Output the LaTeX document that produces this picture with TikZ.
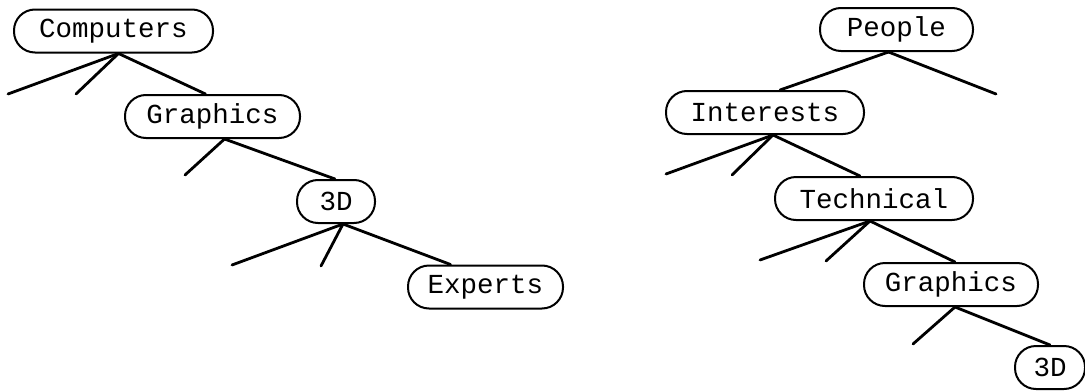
\documentclass[tikz,border=0pt]{standalone}
\usepackage{fontspec}
\newfontfamily\courfont{Liberation Mono}
\begin{document}
\begin{tikzpicture}[x=1pt,y=-1pt,
  box/.style={draw,line width=2pt,rounded corners=21pt,minimum height=43pt,inner xsep=0pt,inner ysep=0pt,
    font=\courfont\fontsize{27.5}{30}\selectfont},
  branch/.style={line width=2.8pt,line cap=round}]
\useasboundingbox (0,0) rectangle (1085,391);
% left tree
\node[box,minimum width=199pt] (comp) at (113.5,31) {Computers};
\node[box,minimum width=175pt] (lgra) at (212.5,116.5) {Graphics};
\node[box,minimum width=78pt] (lthd) at (336,201.5) {3D};
\node[box,minimum width=155pt] (expe) at (485.5,287) {Experts};
\coordinate (c1) at (8,94);
\coordinate (c2) at (76,94);
\coordinate (g1) at (185,175);
\coordinate (d1) at (232,265);
\coordinate (d2) at (321,266);
\draw[branch] ([xshift=5pt]comp.south) -- (c1);
\draw[branch] ([xshift=5pt]comp.south) -- (c2);
\draw[branch] ([xshift=5pt]comp.south) -- ([xshift=-7pt]lgra.north);
\draw[branch] ([xshift=12pt]lgra.south) -- (g1);
\draw[branch] ([xshift=12pt]lgra.south) -- ([xshift=-1pt]lthd.north);
\draw[branch] ([xshift=7pt]lthd.south) -- (d1);
\draw[branch] ([xshift=7pt]lthd.south) -- (d2);
\draw[branch] ([xshift=7pt]lthd.south) -- ([xshift=-35pt]expe.north);
% right tree
\node[box,minimum width=153pt] (peop) at (896.5,29.5) {People};
\node[box,minimum width=198pt] (inte) at (765,112.5) {Interests};
\node[box,minimum width=198pt] (tech) at (874,198.5) {Technical};
\node[box,minimum width=174pt] (rgra) at (951,284.5) {Graphics};
\node[box,minimum width=70pt] (rthd) at (1050,367.5) {3D};
\coordinate (p1) at (996,94);
\coordinate (i1) at (666,174);
\coordinate (i2) at (732,175);
\coordinate (t1) at (760,260);
\coordinate (t2) at (826,261);
\coordinate (r1) at (913,344);
\draw[branch] ([xshift=-8pt]peop.south) -- ([xshift=15pt]inte.north);
\draw[branch] ([xshift=-8pt]peop.south) -- (p1);
\draw[branch] ([xshift=8pt]inte.south) -- (i1);
\draw[branch] ([xshift=8pt]inte.south) -- (i2);
\draw[branch] ([xshift=8pt]inte.south) -- ([xshift=-14pt]tech.north);
\draw[branch] ([xshift=-4pt]tech.south) -- (t1);
\draw[branch] ([xshift=-4pt]tech.south) -- (t2);
\draw[branch] ([xshift=-4pt]tech.south) -- ([xshift=4pt]rgra.north);
\draw[branch] ([xshift=4pt]rgra.south) -- (r1);
\draw[branch] ([xshift=4pt]rgra.south) -- (rthd.north);
\end{tikzpicture}
\end{document}
